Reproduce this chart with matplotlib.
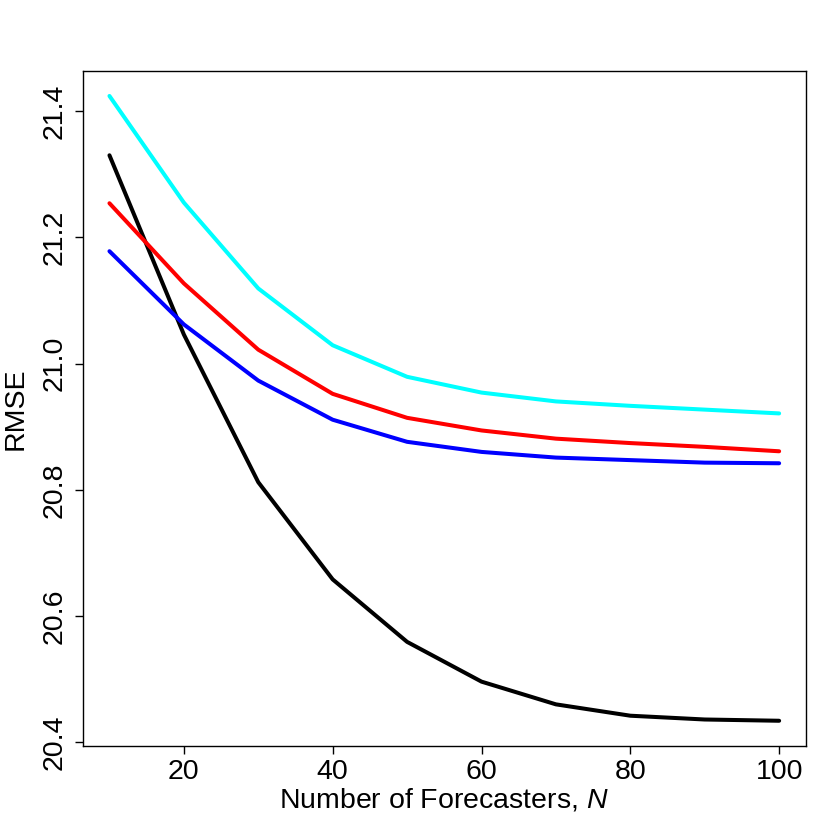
import matplotlib
matplotlib.use("Agg")
import matplotlib.pyplot as plt

plt.rcParams['font.family'] = ['Liberation Sans', 'DejaVu Sans']
plt.rcParams['mathtext.fontset'] = 'custom'
plt.rcParams['mathtext.rm'] = 'Liberation Sans'
plt.rcParams['mathtext.it'] = 'Liberation Sans:italic'

N = [10, 20, 30, 40, 50, 60, 70, 80, 90, 100]
black = [21.330, 21.046, 20.812, 20.658, 20.559, 20.496, 20.460, 20.442, 20.436, 20.434]
red = [21.254, 21.127, 21.022, 20.952, 20.914, 20.894, 20.881, 20.874, 20.868, 20.861]
blue = [21.178, 21.062, 20.973, 20.911, 20.876, 20.860, 20.851, 20.847, 20.843, 20.842]
cyan = [21.424, 21.255, 21.119, 21.029, 20.979, 20.954, 20.940, 20.933, 20.927, 20.921]
xticks = [20, 40, 60, 80, 100]
yticks = [20.4, 20.6, 20.8, 21.0, 21.2, 21.4]

fig = plt.figure(figsize=(8.3, 8.3), dpi=100)
ax = fig.add_axes([0.0996, 0.1012, 0.971 - 0.0996, 0.9148 - 0.1012])

lw = 2.9
ax.plot(N, black, color='black', lw=lw, solid_capstyle='round')
ax.plot(N, cyan, color='#00FFFF', lw=lw, solid_capstyle='round')
ax.plot(N, red, color='#FF0000', lw=lw, solid_capstyle='round')
ax.plot(N, blue, color='#0000FF', lw=lw, solid_capstyle='round')

ax.set_xlim(6.4, 103.6)
ax.set_ylim(20.394, 21.464)
ax.set_xticks(xticks)
ax.set_xticklabels([str(t) for t in xticks])
ax.set_yticks(yticks)
ax.set_yticklabels([f"{t:.1f}" for t in yticks], rotation=90, va='center')

for s in ax.spines.values():
    s.set_linewidth(1.0)
ax.tick_params(axis='both', direction='out', length=5.5, width=1.0, labelsize=20.5)
ax.tick_params(axis='x', pad=4)
ax.tick_params(axis='y', pad=5)

ax.set_xlabel(r'Number of Forecasters, $\mathit{N}$', fontsize=20.5, labelpad=1)
ax.set_ylabel('RMSE', fontsize=20.5, labelpad=10)

fig.savefig('out.png', dpi=100)
